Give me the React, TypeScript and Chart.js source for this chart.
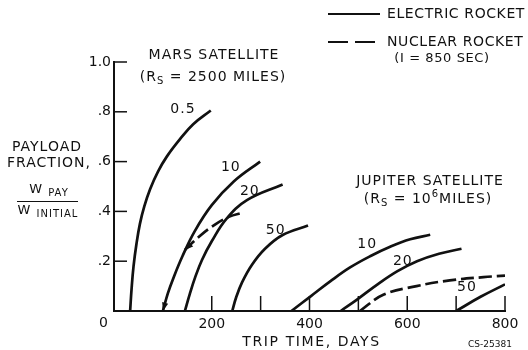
import React, { useEffect, useRef } from 'react';
import { Chart, registerables } from 'chart.js';
Chart.register(...registerables);

const FONT = '"DejaVu Sans", sans-serif';
const INK = '#111';

// axis ticks
const xTickValues = [200, 400, 600, 800];
const xTickMarks = [200, 300, 400, 500, 600, 700, 800];
const yTickLabels = ['', '.2', '.4', '.6', '.8', '1.0'];
const yTickMarks = [0.2, 0.4, 0.6, 0.8, 1.0];

// Mars satellite, electric rocket (curves labelled 0.5, 10, 20, 50)
const mars05Days = [33, 36, 40, 46, 53, 62, 74, 90, 108, 135, 162, 198];
const mars05Pay = [0, 0.09, 0.18, 0.27, 0.35, 0.42, 0.49, 0.56, 0.62, 0.69, 0.75, 0.805];
const mars10Days = [100, 110, 122, 140, 165, 200, 245, 299];
const mars10Pay = [0, 0.07, 0.135, 0.22, 0.32, 0.425, 0.52, 0.6];
const mars20Days = [145, 155, 166, 180, 200, 230, 272, 345];
const mars20Pay = [0, 0.068, 0.135, 0.205, 0.28, 0.37, 0.445, 0.508];
const mars50Days = [242, 250, 262, 282, 309, 345, 397];
const mars50Pay = [0, 0.055, 0.115, 0.185, 0.25, 0.305, 0.343];
// Mars satellite, nuclear rocket
const marsNucDays = [145, 175, 205, 235, 264];
const marsNucPay = [0.245, 0.3, 0.345, 0.378, 0.395];

// Jupiter satellite, electric rocket
const jup10Days = [363, 403, 443, 483, 524, 565, 606, 647];
const jup10Pay = [0, 0.06, 0.12, 0.175, 0.22, 0.258, 0.288, 0.306];
const jup20Days = [464, 500, 540, 580, 620, 665, 711];
const jup20Pay = [0, 0.05, 0.108, 0.16, 0.2, 0.23, 0.25];
const jup50Days = [700, 750, 800];
const jup50Pay = [0, 0.057, 0.107];
// Jupiter satellite, nuclear rocket
const jupNucDays = [503, 551, 619, 687, 756, 800];
const jupNucPay = [0, 0.065, 0.1, 0.123, 0.136, 0.142];

// curve annotations
const curveLabelText = ['0.5', '10', '20', '50', '10', '20', '50'];
const curveLabelDays = [141, 239, 278, 331, 518, 591, 722];
const curveLabelPay = [0.81, 0.577, 0.48, 0.323, 0.266, 0.198, 0.093];

const legendLabels = ['ELECTRIC ROCKET', 'NUCLEAR ROCKET', '(I = 850 SEC)'];
const xTitle = 'TRIP TIME, DAYS';
const reportId = 'CS-25381';

const pts = (d: number[], v: number[]) => d.map((x, i) => ({ x, y: v[i] }));

type Part = { t: string; size: number; dy: number };

function drawRich(ctx: CanvasRenderingContext2D, parts: Part[], cx: number, cy: number) {
  let total = 0;
  parts.forEach((p) => {
    ctx.font = `${p.size}px ${FONT}`;
    total += ctx.measureText(p.t).width;
  });
  let x = cx - total / 2;
  ctx.textAlign = 'left';
  ctx.textBaseline = 'middle';
  parts.forEach((p) => {
    ctx.font = `${p.size}px ${FONT}`;
    ctx.fillText(p.t, x, cy + p.dy);
    x += ctx.measureText(p.t).width;
  });
}

function arrowHead(ctx: CanvasRenderingContext2D, tip: { x: number; y: number }, from: { x: number; y: number }) {
  const a = Math.atan2(tip.y - from.y, tip.x - from.x);
  const L = 9;
  const w = 0.35;
  ctx.beginPath();
  ctx.moveTo(tip.x, tip.y);
  ctx.lineTo(tip.x - L * Math.cos(a - w), tip.y - L * Math.sin(a - w));
  ctx.lineTo(tip.x - L * Math.cos(a + w), tip.y - L * Math.sin(a + w));
  ctx.closePath();
  ctx.fill();
}

const decor = {
  id: 'decor',
  afterDraw(chart: any) {
    const ctx: CanvasRenderingContext2D = chart.ctx;
    const xs = chart.scales.x;
    const ys = chart.scales.y;
    const X = (v: number) => xs.getPixelForValue(v);
    const Y = (v: number) => ys.getPixelForValue(v);
    ctx.save();
    ctx.fillStyle = INK;
    ctx.strokeStyle = INK;
    (ctx as any).letterSpacing = '1px';

    // inward tick marks
    ctx.lineWidth = 1.5;
    yTickMarks.forEach((v) => {
      ctx.beginPath();
      ctx.moveTo(X(0), Y(v));
      ctx.lineTo(X(0) + 13, Y(v));
      ctx.stroke();
    });
    xTickMarks.forEach((v) => {
      ctx.beginPath();
      ctx.moveTo(X(v), Y(0));
      ctx.lineTo(X(v), Y(0) - 15);
      ctx.stroke();
    });

    // origin label
    ctx.font = `14px ${FONT}`;
    ctx.textAlign = 'center';
    ctx.textBaseline = 'middle';
    ctx.fillText('0', X(0) - 10, Y(0) + 12);

    // x axis title
    (ctx as any).letterSpacing = '1.6px';
    drawRich(ctx, [{ t: xTitle, size: 14, dy: 0 }], (X(0) + X(800)) / 2 + 2, 342);
    (ctx as any).letterSpacing = '1px';

    // arrowheads
    const m10 = chart.getDatasetMeta(1).data;
    const mn = chart.getDatasetMeta(4).data;
    arrowHead(ctx, m10[0], m10[1]);
    arrowHead(ctx, mn[0], mn[1]);

    // curve labels
    ctx.font = `14px ${FONT}`;
    ctx.textAlign = 'center';
    ctx.textBaseline = 'middle';
    curveLabelText.forEach((t, i) => {
      ctx.fillText(t, X(curveLabelDays[i]), Y(curveLabelPay[i]));
    });

    // group titles
    drawRich(ctx, [{ t: 'MARS SATELLITE', size: 14, dy: 0 }], 214, 55);
    drawRich(ctx, [
      { t: '(R', size: 14, dy: 0 },
      { t: 'S', size: 10, dy: 4 },
      { t: ' = 2500 MILES)', size: 14, dy: 0 },
    ], 213, 77);
    drawRich(ctx, [{ t: 'JUPITER SATELLITE', size: 14, dy: 0 }], 430, 181);
    drawRich(ctx, [
      { t: '(R', size: 14, dy: 0 },
      { t: 'S', size: 10, dy: 4 },
      { t: ' = 10', size: 14, dy: 0 },
      { t: '6', size: 10, dy: -5 },
      { t: 'MILES)', size: 14, dy: 0 },
    ], 428, 199);

    // y axis title
    drawRich(ctx, [{ t: 'PAYLOAD', size: 14, dy: 0 }], 47, 147);
    drawRich(ctx, [{ t: 'FRACTION,', size: 14, dy: 0 }], 49, 163);
    drawRich(ctx, [
      { t: 'W ', size: 13, dy: 0 },
      { t: 'PAY', size: 10, dy: 3 },
    ], 49, 190);
    ctx.lineWidth = 1;
    ctx.beginPath();
    ctx.moveTo(17, 201.5);
    ctx.lineTo(78, 201.5);
    ctx.stroke();
    drawRich(ctx, [
      { t: 'W ', size: 13, dy: 0 },
      { t: 'INITIAL', size: 10, dy: 3 },
    ], 48, 211);

    // legend
    ctx.lineWidth = 2;
    ctx.beginPath();
    ctx.moveTo(328, 14);
    ctx.lineTo(380, 14);
    ctx.stroke();
    ctx.setLineDash([20, 7]);
    ctx.beginPath();
    ctx.moveTo(328, 42);
    ctx.lineTo(380, 42);
    ctx.stroke();
    ctx.setLineDash([]);
    (ctx as any).letterSpacing = '0.6px';
    ctx.font = `14px ${FONT}`;
    ctx.textAlign = 'left';
    ctx.textBaseline = 'middle';
    ctx.fillText(legendLabels[0], 387, 14);
    ctx.fillText(legendLabels[1], 387, 42);
    drawRich(ctx, [{ t: legendLabels[2], size: 13, dy: 0 }], 442, 59);

    // report id
    (ctx as any).letterSpacing = '0px';
    ctx.font = `9px ${FONT}`;
    ctx.textAlign = 'center';
    ctx.fillText(reportId, 490, 345);
    ctx.restore();
  },
};

export default function App() {
  const ref = useRef<HTMLCanvasElement | null>(null);
  useEffect(() => {
    document.body.style.margin = '0';
    document.body.style.background = '#fff';
    const solid = (d: number[], v: number[]) => ({
      data: pts(d, v),
      borderColor: INK,
      borderWidth: 2.7,
      pointRadius: 0,
      tension: 0.4,
      fill: false,
    });
    const dashed = (d: number[], v: number[]) => ({ ...solid(d, v), borderDash: [13, 5] });
    const chart = new Chart(ref.current as HTMLCanvasElement, {
      type: 'line',
      data: {
        datasets: [
          solid(mars05Days, mars05Pay),
          solid(mars10Days, mars10Pay),
          solid(mars20Days, mars20Pay),
          solid(mars50Days, mars50Pay),
          dashed(marsNucDays, marsNucPay),
          solid(jup10Days, jup10Pay),
          solid(jup20Days, jup20Pay),
          solid(jup50Days, jup50Pay),
          dashed(jupNucDays, jupNucPay),
        ] as any,
      },
      options: {
        responsive: false,
        maintainAspectRatio: false,
        animation: false,
        layout: { padding: { left: 0, top: 62, right: 23, bottom: 0 } },
        plugins: { legend: { display: false }, tooltip: { enabled: false } },
        scales: {
          x: {
            type: 'linear',
            min: 0,
            max: 800,
            afterFit: (s: any) => { s.height = 39; },
            afterBuildTicks: (s: any) => { s.ticks = xTickValues.map((v) => ({ value: v })); },
            grid: { display: false, drawTicks: false },
            border: { display: true, color: INK, width: 2 },
            ticks: { padding: 5, color: INK, font: { family: FONT, size: 14 }, maxRotation: 0, autoSkip: false },
            title: { display: false },
          },
          y: {
            type: 'linear',
            min: 0,
            max: 1,
            afterFit: (s: any) => { s.width = 114; },
            grid: { display: false, drawTicks: false },
            border: { display: true, color: INK, width: 2 },
            ticks: {
              stepSize: 0.2,
              padding: 3,
              color: INK,
              font: { family: FONT, size: 14 },
              callback: (_v: any, i: number) => yTickLabels[i],
            },
          },
        },
      },
      plugins: [decor],
    });
    return () => chart.destroy();
  }, []);
  return <canvas ref={ref} width={528} height={350} style={{ display: 'block' }} />;
}
